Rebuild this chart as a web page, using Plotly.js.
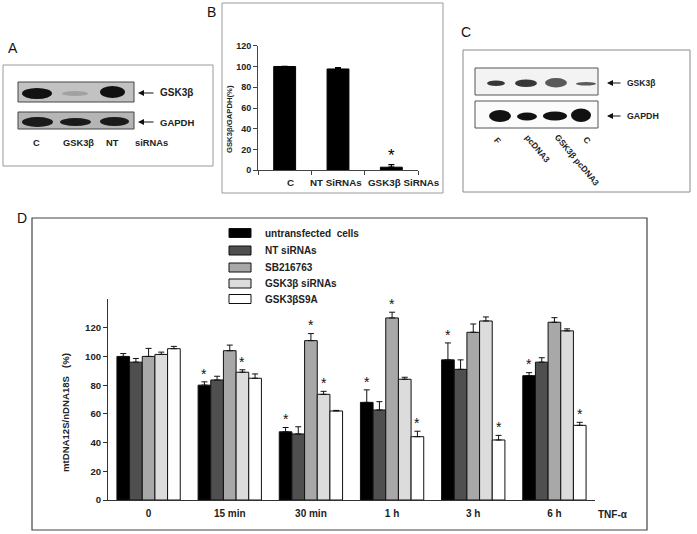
<!DOCTYPE html>
<html><head><meta charset="utf-8">
<script src="https://cdn.plot.ly/plotly-3.0.1.min.js"></script>
<style>html,body{margin:0;padding:0;background:#fff}#chart{width:697px;height:534px}</style>
</head><body><div id="chart"></div>
<script>
// ---------- Panel D data ----------
const timeLabels = ['0', '15 min', '30 min', '1 h', '3 h', '6 h'];
const seriesNames = ['untransfected\u00a0 cells', 'NT siRNAs', 'SB216763', 'GSK3β siRNAs', 'GSK3βS9A'];
const seriesColors = ['#000000', '#4f4f4f', '#a8a8a8', '#dcdcdc', '#ffffff'];
const untransfected = [100, 80, 47.5, 68, 97.6, 86.6];
const untransfectedErr = [2, 2.3, 3, 8.7, 11.8, 2.1];
const ntSirnas = [96, 83.6, 46, 62.7, 91, 96];
const ntSirnasErr = [2.6, 2.6, 5, 5.8, 6.6, 3.1];
const sb216763 = [100, 104, 111, 126.8, 116.8, 123.8];
const sb216763Err = [5.6, 3.9, 4.9, 4, 5.8, 3.2];
const gskSirnas = [101.4, 89, 73.6, 84.1, 124.7, 117.8];
const gskSirnasErr = [1.6, 1.7, 2.1, 1.4, 2.8, 1.4];
const gskS9A = [105.4, 84.8, 62, 44.1, 41.8, 52];
const gskS9AErr = [1.6, 3, 0.4, 3.8, 3.2, 2.1];
// significance marks: [time index, series index]
const sigD = [[1,0],[1,3],[2,0],[2,2],[2,3],[3,0],[3,2],[3,4],[4,0],[4,4],[5,0],[5,4]];

// ---------- Panel B data ----------
const bCats = ['C', 'NT SiRNAs', 'GSK3β SiRNAs'];
const bValues = [100, 97.6, 3];
const bErrors = [0, 1.3, 2.5];
const bSig = [2];

// ---------- Blot labels ----------
const aLanes = ['C', 'GSK3β', 'NT', 'siRNAs'];
const cLanes = ['F', 'pcDNA3', 'GSK3β pcDNA3', 'C'];
const blotProteins = ['GSK3β', 'GAPDH'];

const W = 697, H = 534;
const X = p => p / W;
const Y = p => 1 - p / H;
const FONT = 'Liberation Sans, Arial, sans-serif';

const dVals = [untransfected, ntSirnas, sb216763, gskSirnas, gskS9A];
const dErrs = [untransfectedErr, ntSirnasErr, sb216763Err, gskSirnasErr, gskS9AErr];

const traces = [];
dVals.forEach((v, i) => {
  traces.push({
    type: 'bar', x: timeLabels, y: v, name: seriesNames[i],
    xaxis: 'x', yaxis: 'y', showlegend: false,
    marker: {color: seriesColors[i], line: {color: '#111', width: 1}},
    error_y: {type: 'data', symmetric: false, array: dErrs[i], arrayminus: [],
              color: '#111', thickness: 1, width: 3}
  });
});
traces.push({
  type: 'bar', x: bCats, y: bValues, xaxis: 'x2', yaxis: 'y2', showlegend: false,
  width: 0.41,
  marker: {color: '#000', line: {color: '#000', width: 1}},
  error_y: {type: 'data', symmetric: false, array: bErrors, arrayminus: [],
            color: '#000', thickness: 1.2, width: 3}
});

const annotations = [];
const shapes = [];
const note = (x, y, text, size, extra) => annotations.push(Object.assign({
  xref: 'paper', yref: 'paper', x: X(x), y: Y(y), text: text, showarrow: false,
  xanchor: 'center', yanchor: 'middle', font: {family: FONT, size: size, color: '#222'}}, extra || {}));

// asterisks in D
const bargap = 0.22, nS = 5, bw = (1 - bargap) / nS;
sigD.forEach(([g, s]) => {
  annotations.push({
    xref: 'x', yref: 'y', x: g - (1 - bargap) / 2 + bw * (s + 0.5),
    y: dVals[s][g] + dErrs[s][g] + 8.5, text: '*', showarrow: false,
    font: {family: FONT, size: 14, color: '#111'}, xanchor: 'center', yanchor: 'middle', yshift: -4
  });
});
// asterisk in B
bSig.forEach(i => {
  annotations.push({
    xref: 'x2', yref: 'y2', x: i, y: bValues[i] + bErrors[i] + 14, text: '*',
    showarrow: false, font: {family: FONT, size: 17, color: '#000'}, xanchor: 'center', yanchor: 'middle', yshift: -5
  });
});

// D y title, TNF label
note(65, 413, '<b>mtDNA12S/nDNA18S\u00a0\u00a0 (%)</b>', 9.6, {textangle: -90});
note(613, 514, '<b>TNF-α</b>', 10);
// B y title
note(229, 119, '<b>GSK3β/GAPDH(%)</b>', 7.7, {textangle: -90});
// B category labels
const bLabX = [290, 335.5, 404];
bCats.forEach((c, i) => note(bLabX[i], 182.5, '<b>' + c + '</b>', 9.8));

// D legend (manual)
const legY = [233, 250.5, 267.5, 283.5, 299];
seriesNames.forEach((n, i) => {
  shapes.push({type: 'rect', xref: 'paper', yref: 'paper', x0: X(229), x1: X(251),
    y0: Y(legY[i] - 4.5), y1: Y(legY[i] + 4.5), fillcolor: seriesColors[i], line: {color: '#111', width: 1}});
  note(263, legY[i], '<b>' + n + '</b>', 10, {xanchor: 'left'});
});

// panel frames
const frame = (x0, y0, x1, y1, c, w) => shapes.push({type: 'rect', xref: 'paper', yref: 'paper',
  x0: X(x0), x1: X(x1), y0: Y(y0), y1: Y(y1), line: {color: c, width: w}, fillcolor: 'rgba(0,0,0,0)', layer: 'below'});
frame(3, 65, 213, 166, '#9a9a9a', 1);
frame(222, 3, 443, 193, '#9a9a9a', 1);
frame(463, 50, 690, 192, '#8a8a8a', 1);
frame(32, 218, 647, 530, '#444', 1.2);

// panel letters
[['A', 13, 48], ['B', 212, 12], ['C', 466, 32], ['D', 22, 218]].forEach(([t, x, y]) => note(x, y, t, 14, {font: {family: FONT, size: 14, color: '#111'}}));

// blot helpers
const rect = (x0, y0, x1, y1, fill, lc, lw) => shapes.push({type: 'rect', xref: 'paper', yref: 'paper',
  x0: X(x0), x1: X(x1), y0: Y(y0), y1: Y(y1), fillcolor: fill, line: {color: lc, width: lw}});
const band = (x0, y0, x1, y1, fill, op) => shapes.push({type: 'circle', xref: 'paper', yref: 'paper',
  x0: X(x0), x1: X(x1), y0: Y(y0), y1: Y(y1), fillcolor: fill, opacity: op, line: {width: 0}});
const arrowLabel = (tipX, y, len, label, tx, size) => {
  annotations.push({xref: 'paper', yref: 'paper', x: X(tipX), y: Y(y), ax: len, ay: 0, text: '',
    showarrow: true, arrowhead: 2, arrowsize: 1, arrowwidth: 1.2, arrowcolor: '#111'});
  note(tx, y, '<b>' + label + '</b>', size, {xanchor: 'left'});
};

// Panel A blots
rect(18, 82, 134, 102, '#c2c2c2', '#444', 1);
band(22, 88, 52, 99, '#111', 1);
band(62, 91, 88, 96, '#999', 0.8);
band(100, 86, 125, 98, '#111', 1);
rect(18, 112, 134, 129, '#b5b5b5', '#444', 1);
band(22, 117, 53, 127, '#1a1a1a', 1);
band(60, 118, 91, 126, '#1a1a1a', 1);
band(100, 117, 129, 126, '#1a1a1a', 1);
arrowLabel(138, 93, 17, blotProteins[0], 158, 10);
arrowLabel(138, 122, 17, blotProteins[1], 158, 9.5);
const aX = [36, 78, 113, 151];
aLanes.forEach((t, i) => note(aX[i], 143, '<b>' + t + '</b>', 9.3));

// Panel C blots
rect(475, 68, 598, 95, '#f3f3f3', '#555', 1);
band(487, 80.5, 505, 86, '#222', 0.9);
band(515, 79.5, 537, 87, '#222', 0.9);
band(545, 78, 567, 87.5, '#333', 0.8);
band(576, 82, 596, 85.5, '#333', 0.8);
rect(475, 101, 598, 128, '#fbfbfb', '#555', 1);
band(489, 110, 511, 122, '#111', 1);
band(517, 112.5, 537, 120.5, '#111', 1);
band(543, 111.5, 567, 120.5, '#111', 1);
band(571, 108.5, 591, 122, '#111', 1);
arrowLabel(607, 83, 15, blotProteins[0], 625, 8.5);
arrowLabel(607, 116, 15, blotProteins[1], 625, 8.8);
const cPos = [[497, 140], [537, 148], [577, 160], [587, 140]];
cLanes.forEach((t, i) => note(cPos[i][0], cPos[i][1], '<b>' + t + '</b>', 8.5, {textangle: 50}));

const layout = {
  width: W, height: H, margin: {l: 0, r: 0, t: 0, b: 0},
  paper_bgcolor: '#fff', plot_bgcolor: 'rgba(0,0,0,0)',
  barmode: 'group', bargap: bargap, bargroupgap: 0,
  showlegend: false,
  xaxis: {domain: [X(108), X(595)], anchor: 'y', type: 'category', range: [-0.5, 5.5],
    showline: true, linecolor: '#333', linewidth: 1, ticks: '', showgrid: false, zeroline: false,
    tickfont: {family: FONT, size: 10, color: '#222', weight: 'bold'}, ticklabelstandoff: 4, fixedrange: true},
  yaxis: {domain: [Y(500), Y(299)], anchor: 'x', range: [0, 140], tickvals: [0, 20, 40, 60, 80, 100, 120],
    ticks: 'outside', ticklen: 4, tickcolor: '#333', showline: true, linecolor: '#333', linewidth: 1,
    showgrid: false, zeroline: false, tickfont: {family: FONT, size: 9.6, color: '#222', weight: 'bold'}, fixedrange: true},
  xaxis2: {domain: [X(258), X(418)], anchor: 'y2', type: 'category', range: [-0.5, 2.5],
    showline: true, linecolor: '#444', linewidth: 1, ticks: 'outside', tickson: 'boundaries', ticklen: 4, tickcolor: '#444',
    showticklabels: false, showgrid: false, zeroline: false, fixedrange: true},
  yaxis2: {domain: [Y(170.3), Y(45.7)], anchor: 'x2', range: [0, 120], dtick: 20,
    ticks: 'outside', ticklen: 4, tickcolor: '#444', showline: true, linecolor: '#444', linewidth: 1,
    showgrid: false, zeroline: false, tickfont: {family: FONT, size: 9, color: '#222', weight: 'bold'}, fixedrange: true},
  annotations: annotations, shapes: shapes
};

Plotly.newPlot('chart', traces, layout, {staticPlot: true, displayModeBar: false});
</script>
</body></html>
